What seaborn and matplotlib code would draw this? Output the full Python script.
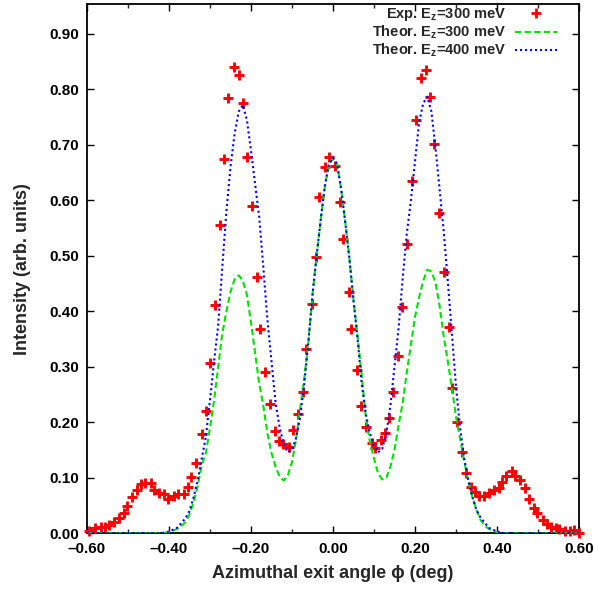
import matplotlib
matplotlib.use("Agg")
import matplotlib.pyplot as plt
from matplotlib.lines import Line2D
from matplotlib.ticker import MultipleLocator, FuncFormatter, FormatStrFormatter
import seaborn as sns
import pandas as pd

# ---------------- data ----------------
exp_phi = [-0.594, -0.581, -0.567, -0.556, -0.546, -0.533, -0.521, -0.509, -0.502, -0.491,
           -0.479, -0.469, -0.459, -0.445, -0.436, -0.424, -0.412, -0.402, -0.387, -0.377,
           -0.363, -0.354, -0.346, -0.334, -0.320, -0.310, -0.299, -0.288, -0.276, -0.265,
           -0.255, -0.2415, -0.230, -0.219, -0.209, -0.198, -0.185, -0.177, -0.165, -0.154,
           -0.1415, -0.131, -0.121, -0.107, -0.097, -0.086, -0.072, -0.066, -0.052, -0.042,
           -0.033, -0.019, -0.010, 0.004, 0.018, 0.024, 0.038, 0.045, 0.059, 0.069,
           0.080, 0.095, 0.103, 0.117, 0.128, 0.137, 0.146, 0.159, 0.169, 0.181,
           0.192, 0.202, 0.215, 0.227, 0.237, 0.246, 0.258, 0.270, 0.282, 0.291,
           0.302, 0.315, 0.324, 0.337, 0.347, 0.357, 0.368, 0.381, 0.393, 0.406,
           0.413, 0.423, 0.436, 0.443, 0.456, 0.468, 0.478, 0.490, 0.497, 0.511,
           0.523, 0.531, 0.545, 0.552, 0.566, 0.578, 0.589, 0.600]
exp_int = [0.0047, 0.009, 0.0108, 0.0114, 0.0144, 0.0209, 0.027, 0.0371, 0.049, 0.0649,
           0.078, 0.0888, 0.0912, 0.0912, 0.0775, 0.072, 0.0703, 0.0623, 0.0672, 0.0708,
           0.0708, 0.0829, 0.102, 0.1267, 0.1784, 0.2209, 0.3074, 0.4114, 0.5555, 0.6744,
           0.7838, 0.8397, 0.8252, 0.7748, 0.6775, 0.5892, 0.4624, 0.3681, 0.2901, 0.2335,
           0.1849, 0.1658, 0.1604, 0.1555, 0.1861, 0.2147, 0.254, 0.3315, 0.4132, 0.4978,
           0.6065, 0.6605, 0.6775, 0.6618, 0.5964, 0.5297, 0.4353, 0.3676, 0.2942, 0.2299,
           0.1921, 0.1632, 0.1532, 0.1676, 0.1802, 0.2083, 0.254, 0.32, 0.4083, 0.5218,
           0.6348, 0.7447, 0.8198, 0.8348, 0.7861, 0.7009, 0.5766, 0.4708, 0.3712, 0.2623,
           0.2011, 0.1459, 0.1081, 0.084, 0.0739, 0.0677, 0.0677, 0.0721, 0.0775, 0.0811,
           0.0924, 0.1038, 0.1117, 0.1038, 0.096, 0.0811, 0.0623, 0.0456, 0.036, 0.0245,
           0.0173, 0.0119, 0.0101, 0.0077, 0.0041, 0.0041, 0.0054, 0.001]

th300_phi = [-0.60, -0.42, -0.40, -0.38, -0.37, -0.36, -0.35, -0.34, -0.33, -0.32, -0.31, -0.30,
             -0.29, -0.28, -0.27, -0.26, -0.25, -0.24, -0.23, -0.22, -0.21, -0.20,
             -0.19, -0.18, -0.17, -0.16, -0.15, -0.14, -0.13, -0.12, -0.11, -0.10,
             -0.09, -0.08, -0.07, -0.06, -0.05, -0.04, -0.03, -0.02, -0.01, 0.00,
             0.01, 0.02, 0.03, 0.04, 0.05, 0.06, 0.07, 0.08, 0.09, 0.10,
             0.11, 0.12, 0.13, 0.14, 0.15, 0.16, 0.17, 0.18, 0.19, 0.20,
             0.21, 0.22, 0.23, 0.24, 0.25, 0.26, 0.27, 0.28, 0.29, 0.30,
             0.31, 0.32, 0.33, 0.34, 0.35, 0.36, 0.37, 0.38, 0.40, 0.42, 0.60]
th300_int = [0.0, 0.0, 0.002, 0.008, 0.013, 0.02, 0.034, 0.056, 0.085, 0.123, 0.145, 0.19,
             0.24, 0.30, 0.36, 0.40, 0.435, 0.458, 0.465, 0.455, 0.43, 0.38,
             0.325, 0.27, 0.23, 0.18, 0.145, 0.12, 0.102, 0.095, 0.105, 0.128,
             0.17, 0.225, 0.28, 0.345, 0.43, 0.50, 0.565, 0.625, 0.665, 0.675,
             0.665, 0.62, 0.56, 0.495, 0.42, 0.355, 0.285, 0.21, 0.165, 0.135,
             0.108, 0.097, 0.10, 0.12, 0.15, 0.195, 0.235, 0.29, 0.34, 0.39,
             0.425, 0.455, 0.475, 0.472, 0.452, 0.41, 0.355, 0.31, 0.262, 0.21,
             0.17, 0.13, 0.095, 0.065, 0.042, 0.024, 0.014, 0.008, 0.002, 0.0, 0.0]

th400_phi = [-0.60, -0.42, -0.40, -0.38, -0.36, -0.35, -0.34, -0.33, -0.32, -0.31, -0.30,
             -0.29, -0.28, -0.27, -0.26, -0.25, -0.24, -0.23, -0.22, -0.21, -0.20,
             -0.19, -0.18, -0.17, -0.16, -0.15, -0.14, -0.13, -0.12, -0.11, -0.10,
             -0.09, -0.08, -0.07, -0.06, -0.05, -0.04, -0.03, -0.02, -0.01, 0.00,
             0.01, 0.02, 0.03, 0.04, 0.05, 0.06, 0.07, 0.08, 0.09, 0.10,
             0.11, 0.12, 0.13, 0.14, 0.15, 0.16, 0.17, 0.18, 0.19, 0.20,
             0.21, 0.22, 0.23, 0.24, 0.25, 0.26, 0.27, 0.28, 0.29, 0.30,
             0.31, 0.32, 0.33, 0.34, 0.35, 0.36, 0.38, 0.40, 0.42, 0.60]
th400_int = [0.0, 0.0, 0.003, 0.01, 0.027, 0.04, 0.065, 0.095, 0.135, 0.175, 0.24,
             0.31, 0.375, 0.48, 0.58, 0.66, 0.72, 0.76, 0.772, 0.745, 0.69,
             0.63, 0.57, 0.48, 0.385, 0.31, 0.235, 0.19, 0.16, 0.146, 0.15,
             0.172, 0.21, 0.27, 0.345, 0.43, 0.50, 0.565, 0.625, 0.665, 0.677,
             0.665, 0.62, 0.56, 0.495, 0.42, 0.35, 0.27, 0.215, 0.18, 0.158,
             0.146, 0.152, 0.18, 0.23, 0.30, 0.37, 0.46, 0.54, 0.60, 0.67,
             0.74, 0.775, 0.787, 0.76, 0.695, 0.62, 0.545, 0.455, 0.36, 0.265,
             0.19, 0.135, 0.095, 0.065, 0.042, 0.028, 0.01, 0.003, 0.0, 0.0]

x_ticks = [-0.60, -0.40, -0.20, 0.00, 0.20, 0.40, 0.60]
y_ticks = [0.00, 0.10, 0.20, 0.30, 0.40, 0.50, 0.60, 0.70, 0.80, 0.90]

labels = ["Exp. E$_\\mathrm{z}$=300 meV",
          "Theor. E$_\\mathrm{z}$=300 meV",
          "Theor. E$_\\mathrm{z}$=400 meV"]

# ---------------- style ----------------
sns.set_theme(style="ticks")
plt.rcParams["font.family"] = ["Liberation Sans", "DejaVu Sans"]
plt.rcParams["font.weight"] = "bold"
plt.rcParams["mathtext.fontset"] = "custom"
plt.rcParams["mathtext.rm"] = "Liberation Sans:bold"
plt.rcParams["mathtext.bf"] = "Liberation Sans:bold"
plt.rcParams["mathtext.it"] = "Liberation Sans:bold"

W, H = 598, 596
fig = plt.figure(figsize=(W / 100, H / 100), dpi=100)
ax = fig.add_axes([87 / W, 1 - 533.3 / H, (579 - 87) / W, (533.3 - 4) / H])

df_exp = pd.DataFrame({"phi": exp_phi, "I": exp_int})
df300 = pd.DataFrame({"phi": th300_phi, "I": th300_int})
df400 = pd.DataFrame({"phi": th400_phi, "I": th400_int})

red = "#ff0000"
green = "#00e600"
blue = "#0000ff"
dash_g = (0, (3.0, 1.6))
dot_b = (0, (1, 1.4))

sns.scatterplot(data=df_exp, x="phi", y="I", ax=ax, marker="+", s=48,
                linewidth=2.1, color=red, zorder=3, clip_on=False, legend=False)
sns.lineplot(data=df300, x="phi", y="I", ax=ax, color=green, lw=1.5,
             linestyle=dash_g, sort=False, zorder=4, legend=False)
sns.lineplot(data=df400, x="phi", y="I", ax=ax, color=blue, lw=1.5,
             linestyle=dot_b, sort=False, zorder=5, legend=False)

ax.set_xlim(-0.6, 0.6)
ax.set_ylim(0, 0.954)
ax.set_xticks(x_ticks)
ax.set_yticks(y_ticks)
ax.xaxis.set_minor_locator(MultipleLocator(0.1))
ax.xaxis.set_major_formatter(FuncFormatter(lambda v, p: ("%.2f" % v).replace("-", "\u2013")))
ax.yaxis.set_major_formatter(FormatStrFormatter("%.2f"))
ax.tick_params(axis="both", which="major", direction="in", length=5, width=1,
               top=True, right=True, labelsize=11, pad=6, colors="black")
ax.tick_params(axis="x", which="minor", direction="in", length=3, width=1,
               top=True, bottom=True)
for lab in ax.get_xticklabels() + ax.get_yticklabels():
    lab.set_fontweight("bold")
for sp in ax.spines.values():
    sp.set_linewidth(1.3)
    sp.set_color("black")

ax.set_xlabel("Azimuthal exit angle ϕ (deg)", fontsize=13, fontweight="bold", labelpad=7)
ax.set_ylabel("Intensity (arb. units)", fontsize=13, fontweight="bold", labelpad=13)

handles = [
    Line2D([], [], color=red, marker="+", linestyle="none", markersize=6.5, markeredgewidth=2),
    Line2D([], [], color=green, lw=1.5, linestyle=dash_g),
    Line2D([], [], color=blue, lw=1.5, linestyle=dot_b),
]
leg = ax.legend(handles, labels, loc="upper right", frameon=False, markerfirst=False,
                handlelength=2.9, handletextpad=0.6, labelspacing=0.05, borderpad=0,
                fontsize=10.5, borderaxespad=0,
                bbox_to_anchor=((557 - 87) / 492, 1 - 2 / 529.3))
for t in leg.get_texts():
    t.set_fontweight("bold")

fig.savefig("out.png", dpi=100, facecolor="white")
